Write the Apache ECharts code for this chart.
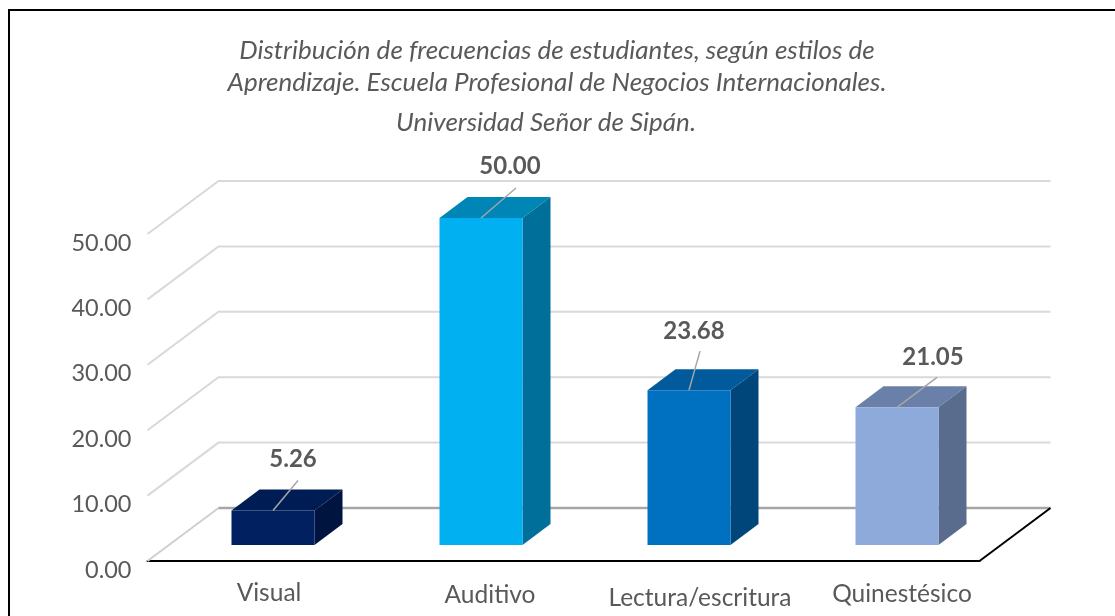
<!DOCTYPE html>
<html>
<head>
<meta charset="utf-8">
<style>html,body{margin:0;padding:0;background:#fff}#chart{width:1115px;height:616px}</style>
<script src="https://cdn.jsdelivr.net/npm/echarts@6/dist/echarts.min.js"></script>
</head>
<body>
<div id="chart"></div>
<script>
var categories = ['Visual', 'Auditivo', 'Lectura/escritura', 'Quinestésico'];
var values = [5.26, 50.00, 23.68, 21.05];
var wallTicks = [10, 20, 30, 40, 50];

// colores: frente, tapa, lado
var barColors = [
    ['#002060', '#001c54', '#001440'],
    ['#00b0f0', '#0086b6', '#006f9a'],
    ['#0070c0', '#005a9c', '#00467a'],
    ['#8eaadb', '#6a80a8', '#5a6c8e']
];

// perspectiva del grafico
var depthX = 71, depthY = -53;
var barDepthX = 28, barDepthY = -21;
var barShiftX = 21.5, barShiftY = -16;
var barWidth = 83;

// etiquetas: desplazamiento desde el centro de la tapa frontal
var labelOffsets = [[20, -51.5], [29, -51.5], [5, -58.5], [36, -50.5]];
var leaderEnds = [[25, -30], [35, -30], [11, -39], [40, -30]];
var catPadding = [[26, 35], [28, 61], [31, 65], [27, 53]];

var myChart = echarts.init(document.getElementById('chart'));

function wallItem(params, api) {
    var cs = params.coordSys;
    var y = api.coord([0, api.value(0)])[1];
    return {
        type: 'polyline',
        shape: {points: [[cs.x, y], [cs.x + depthX, y + depthY], [cs.x + cs.width + depthX, y + depthY]]},
        style: {fill: 'none', stroke: '#d9d9d9', lineWidth: 2}
    };
}

function floorItem(params, api) {
    var cs = params.coordSys;
    var y = api.coord([0, 0])[1];
    return {
        type: 'group',
        children: [
            {type: 'line', shape: {x1: cs.x, y1: y, x2: cs.x + depthX, y2: y + depthY},
                style: {stroke: '#cfcfcf', lineWidth: 2}},
            {type: 'line', shape: {x1: cs.x + depthX, y1: y + depthY, x2: cs.x + cs.width + depthX, y2: y + depthY},
                style: {stroke: '#a6a6a6', lineWidth: 2.5}},
            {type: 'line', shape: {x1: cs.x + cs.width, y1: y, x2: cs.x + cs.width + depthX, y2: y + depthY},
                style: {stroke: '#000', lineWidth: 2}}
        ]
    };
}

function barItem(params, api) {
    var i = api.value(0);
    var top = api.coord([i, api.value(1)]);
    var base = api.coord([i, 0]);
    var x0 = top[0] + barShiftX - barWidth / 2;
    var x1 = x0 + barWidth;
    var yTop = top[1] + barShiftY;
    var yBase = base[1] + barShiftY;
    var c = barColors[i];
    var cx = x0 + barWidth / 2;
    return {
        type: 'group',
        children: [
            {type: 'polygon', shape: {points: [[x0, yTop], [x0 + barDepthX, yTop + barDepthY], [x1 + barDepthX, yTop + barDepthY], [x1, yTop]]}, style: {fill: c[1]}},
            {type: 'polygon', shape: {points: [[x1, yTop], [x1 + barDepthX, yTop + barDepthY], [x1 + barDepthX, yBase + barDepthY], [x1, yBase]]}, style: {fill: c[2]}},
            {type: 'rect', shape: {x: x0, y: yTop, width: barWidth, height: yBase - yTop}, style: {fill: c[0]}},
            {type: 'line', shape: {x1: cx, y1: yTop, x2: cx + leaderEnds[i][0], y2: yTop + leaderEnds[i][1]}, style: {stroke: '#a6a6a6', lineWidth: 1.5}},
            {type: 'text', x: cx + labelOffsets[i][0], y: yTop + labelOffsets[i][1],
                style: {text: api.value(1).toFixed(2), fill: '#595959', font: 'bold 24px Lato', align: 'center', verticalAlign: 'middle'}}
        ]
    };
}

var option = {
    backgroundColor: '#fff',
    animation: false,
    title: [
        {
            text: 'Distribución de frecuencias de estudiantes, según estilos de\nAprendizaje. Escuela Profesional de Negocios Internacionales.',
            left: 552, top: 30, textAlign: 'center',
            textStyle: {color: '#595959', fontFamily: 'Lato', fontStyle: 'italic', fontWeight: 'normal', fontSize: 26, lineHeight: 32}
        },
        {
            text: 'Universidad Señor de Sipán.',
            left: 541, top: 102, textAlign: 'center',
            textStyle: {color: '#595959', fontFamily: 'Lato', fontStyle: 'italic', fontWeight: 'normal', fontSize: 26, lineHeight: 32}
        }
    ],
    grid: {left: 147.5, top: 234, width: 832, height: 327},
    xAxis: {
        type: 'category',
        data: categories.map(function (c, i) {
            return {value: c, textStyle: {padding: [catPadding[i][0] - 20, 0, 0, catPadding[i][1]]}};
        }),
        axisTick: {show: false},
        axisLine: {lineStyle: {color: '#000', width: 2}},
        axisLabel: {color: '#595959', fontFamily: 'Lato', fontSize: 24.5, margin: 14, interval: 0}
    },
    yAxis: {
        type: 'value',
        min: 0,
        max: 50,
        interval: 10,
        splitLine: {show: false},
        axisLine: {show: false},
        axisTick: {show: false},
        axisLabel: {
            color: '#595959', fontFamily: 'Lato', fontSize: 23.5, margin: 16, verticalAlign: 'top', lineHeight: 18,
            formatter: function (v) { return v.toFixed(2); }
        }
    },
    graphic: [{
        type: 'rect', silent: true, z: -1,
        shape: {x: 9, y: 10, width: 1200, height: 700},
        style: {fill: 'none', stroke: '#000', lineWidth: 2}
    }],
    series: [
        {name: 'paredes', type: 'custom', clip: false, silent: true, z: 1, renderItem: wallItem, data: wallTicks.map(function (t) { return [t]; }), encode: {y: 0}},
        {name: 'piso', type: 'custom', clip: false, silent: true, z: 2, renderItem: floorItem, data: [[0]], encode: {y: 0}},
        {name: 'barras', type: 'custom', clip: false, z: 3, renderItem: barItem,
            data: values.map(function (v, i) { return [i, v]; }), encode: {x: 0, y: 1}}
    ]
};

myChart.setOption(option);
</script>
</body>
</html>
